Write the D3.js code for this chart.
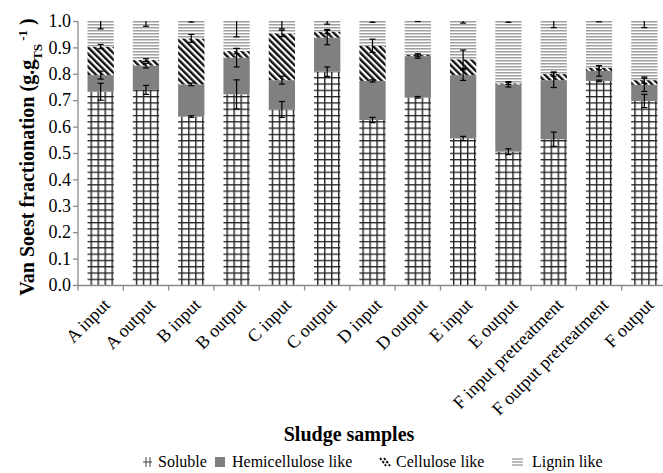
<!DOCTYPE html>
<html>
<head>
<meta charset="utf-8">
<script src="https://cdn.jsdelivr.net/npm/d3@7"></script>
<style>
  html, body { margin: 0; padding: 0; background: #fff; }
  svg { display: block; }
  text { font-family: "Liberation Serif", "Times New Roman", serif; fill: #000; }
</style>
</head>
<body>
<svg id="chart" width="663" height="473"></svg>
<script>
// ---- data ----
const categories = ["A input", "A output", "B input", "B output", "C input", "C output",
  "D input", "D output", "E input", "E output", "F input pretreatment",
  "F output pretreatment", "F output"];
const seriesNames = ["Soluble", "Hemicellulose like", "Cellulose like", "Lignin like"];
const soluble       = [0.732, 0.739, 0.638, 0.722, 0.665, 0.808, 0.625, 0.711, 0.555, 0.505, 0.552, 0.773, 0.697];
const hemicellulose = [0.063, 0.092, 0.122, 0.139, 0.111, 0.129, 0.148, 0.156, 0.240, 0.255, 0.224, 0.038, 0.061];
const cellulose     = [0.108, 0.021, 0.174, 0.025, 0.177, 0.023, 0.133, 0.004, 0.060, 0.004, 0.023, 0.012, 0.018];
const lignin        = [0.097, 0.148, 0.066, 0.114, 0.047, 0.040, 0.094, 0.129, 0.145, 0.236, 0.201, 0.177, 0.224];
const errSoluble    = [0.032, 0.017, 0.003, 0.055, 0.030, 0.018, 0.010, 0.003, 0.008, 0.011, 0.027, 0.003, 0.025];
const errHemi       = [0.015, 0.009, 0.005, 0.035, 0.015, 0.027, 0.004, 0.008, 0.020, 0.010, 0.028, 0.020, 0.025];
const errCell       = [0.008, 0.005, 0.015, 0.010, 0.012, 0.008, 0.025, 0.004, 0.035, 0.004, 0.008, 0.008, 0.012];
const errLignin     = [0.030, 0.020, 0.004, 0.060, 0.030, 0.012, 0.005, 0.002, 0.008, 0.005, 0.025, 0.003, 0.025];
const yTicks = [0, 0.1, 0.2, 0.3, 0.4, 0.5, 0.6, 0.7, 0.8, 0.9, 1.0];

const seriesValues = [soluble, hemicellulose, cellulose, lignin];
const seriesErrors = [errSoluble, errHemi, errCell, errLignin];
const table = categories.map((c, i) => {
  const row = { cat: c, i: i };
  seriesNames.forEach((s, k) => row[s] = seriesValues[k][i]);
  return row;
});

// ---- layout ----
const svg = d3.select("#chart");
const x = d3.scaleBand().domain(categories).range([78, 667]).paddingInner(0.42).paddingOuter(0.21);
const y = d3.scaleLinear().domain([0, 1]).range([285, 21]);
const axisGray = "#8a8a8a";

const defs = svg.append("defs");
// soluble grid pattern, one per bar so lines align with the bar
categories.forEach((c, i) => {
  const p = defs.append("pattern").attr("id", "sol" + i)
    .attr("patternUnits", "userSpaceOnUse")
    .attr("x", x(c) + 3).attr("y", 285 - 63).attr("width", 7).attr("height", 6.3);
  p.append("rect").attr("width", 7).attr("height", 6.3).attr("fill", "#fff");
  p.append("rect").attr("x", 0).attr("y", 0).attr("width", 1.4).attr("height", 6.3).attr("fill", "#222");
  p.append("rect").attr("x", 0).attr("y", 0).attr("width", 7).attr("height", 1.3).attr("fill", "#222");
});
// cellulose diagonal stripes "\"
const pc = defs.append("pattern").attr("id", "cell")
  .attr("patternUnits", "userSpaceOnUse").attr("width", 4.6).attr("height", 10)
  .attr("patternTransform", "rotate(-45)");
pc.append("rect").attr("width", 4.6).attr("height", 10).attr("fill", "#fff");
pc.append("rect").attr("width", 2.4).attr("height", 10).attr("fill", "#111");
// lignin horizontal lines
const pl = defs.append("pattern").attr("id", "lig")
  .attr("patternUnits", "userSpaceOnUse").attr("width", 10).attr("height", 3);
pl.append("rect").attr("width", 10).attr("height", 3).attr("fill", "#fff");
pl.append("rect").attr("y", 0).attr("width", 10).attr("height", 1.5).attr("fill", "#a0a0a0");

const fills = [i => `url(#sol${i})`, () => "#808080", () => "url(#cell)", () => "url(#lig)"];

const stack = d3.stack().keys(seriesNames);
const stacked = stack(table);

// bars
stacked.forEach((layer, k) => {
  svg.append("g").selectAll("rect").data(layer).join("rect")
    .attr("x", d => x(d.data.cat))
    .attr("width", x.bandwidth())
    .attr("y", d => y(d[1]))
    .attr("height", d => Math.max(0, y(d[0]) - y(d[1])))
    .attr("fill", d => fills[k](d.data.i));
});

// error bars
const capW = 3;
stacked.forEach((layer, k) => {
  const g = svg.append("g").attr("stroke", "#000").attr("stroke-width", 1.2);
  layer.forEach(d => {
    const i = d.data.i;
    const e = seriesErrors[k][i];
    const cx = x(d.data.cat) + x.bandwidth() / 2;
    const clamped = d[1] + e > 1;
    const hi = Math.min(1, d[1] + e), lo = d[1] - e;
    g.append("line").attr("x1", cx).attr("x2", cx).attr("y1", y(hi)).attr("y2", y(lo));
    if (!clamped) g.append("line").attr("x1", cx - capW).attr("x2", cx + capW).attr("y1", y(hi)).attr("y2", y(hi));
    g.append("line").attr("x1", cx - capW).attr("x2", cx + capW).attr("y1", y(lo)).attr("y2", y(lo));
  });
});

// y axis
const yAxis = d3.axisLeft(y).tickValues(yTicks).tickFormat(d3.format(".1f")).tickSize(5).tickPadding(2);
const gy = svg.append("g").attr("transform", "translate(78,0)").call(yAxis);
gy.attr("font-family", null);
gy.select(".domain").attr("stroke", axisGray).attr("stroke-width", 1.3).attr("d", "M0,21V285.5");
gy.selectAll(".tick line").attr("stroke", axisGray).attr("stroke-width", 1.3);
gy.selectAll(".tick text").style("font-size", "18px").style("font-family", "'Liberation Serif', serif").attr("fill", "#000");

// x axis
const gx = svg.append("g").attr("transform", "translate(0,285.5)");
gx.append("line").attr("x1", 78).attr("x2", 663).attr("stroke", axisGray).attr("stroke-width", 1.3);
const bounds = categories.map(c => x(c) - x.step() * x.paddingInner() / 2);
gx.selectAll("line.tk").data(bounds).join("line").attr("class", "tk")
  .attr("x1", d => d).attr("x2", d => d).attr("y1", 0).attr("y2", 5)
  .attr("stroke", axisGray).attr("stroke-width", 1.3);
gx.selectAll("text").data(categories).join("text")
  .attr("transform", c => `translate(${x(c) + x.bandwidth() / 2 + 6},${16}) rotate(-45)`)
  .attr("text-anchor", "end").attr("dy", "0.35em")
  .style("font-size", "18px")
  .text(c => c);

// y title
const yt = svg.append("text")
  .attr("transform", "translate(34,157) rotate(-90)")
  .attr("text-anchor", "middle")
  .style("font-size", "20px").style("font-weight", "bold");
yt.append("tspan").text("Van Soest fractionation (g.g");
yt.append("tspan").attr("baseline-shift", "sub").style("font-size", "13px").text("TS");
yt.append("tspan").attr("baseline-shift", "super").style("font-size", "13px").text(" -1");
yt.append("tspan").text(" )");

// x title
svg.append("text").attr("x", 349).attr("y", 441).attr("text-anchor", "middle")
  .style("font-size", "20px").style("font-weight", "bold").text("Sludge samples");

// legend
const legendX = [143, 215, 380, 512];
const legendTextX = [158, 232, 396, 532];
const ly = 462;
const lg = svg.append("g");
seriesNames.forEach((s, k) => {
  const sx = legendX[k];
  const g = lg.append("g");
  if (k === 0) {
    g.append("line").attr("x1", sx).attr("x2", sx + 9).attr("y1", ly).attr("y2", ly).attr("stroke", "#444").attr("stroke-width", 1);
    g.append("line").attr("x1", sx + 3).attr("x2", sx + 3).attr("y1", ly - 5).attr("y2", ly + 5).attr("stroke", "#444").attr("stroke-width", 1);
    g.append("line").attr("x1", sx + 7).attr("x2", sx + 7).attr("y1", ly - 5).attr("y2", ly + 5).attr("stroke", "#444").attr("stroke-width", 1);
  } else if (k === 1) {
    g.append("rect").attr("x", sx).attr("y", ly - 5).attr("width", 10).attr("height", 10).attr("fill", "#808080");
  } else if (k === 2) {
    [0, 4].forEach(o => g.append("line").attr("x1", sx + o).attr("y1", ly - 4).attr("x2", sx + o + 6).attr("y2", ly + 4)
      .attr("stroke", "#111").attr("stroke-width", 2).attr("stroke-dasharray", "2.5,1.5"));
  } else {
    [-3, 0, 3].forEach(o => g.append("line").attr("x1", sx).attr("x2", sx + 11).attr("y1", ly + o).attr("y2", ly + o)
      .attr("stroke", "#999").attr("stroke-width", 1.3));
  }
  g.append("text").attr("x", legendTextX[k]).attr("y", ly + 5).style("font-size", "16px").text(s);
});
</script>
</body>
</html>
